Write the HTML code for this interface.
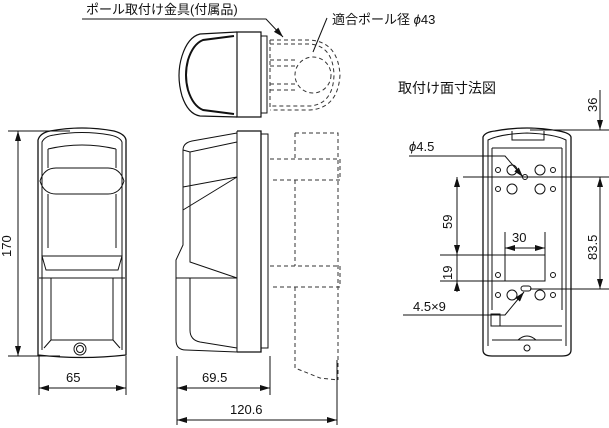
<!DOCTYPE html>
<html><head><meta charset="utf-8"><style>
html,body{margin:0;padding:0;background:#fff;width:609px;height:428px;overflow:hidden}
svg{display:block}
text{font-family:"Liberation Sans","Noto Sans CJK JP",sans-serif;fill:#111}
</style></head><body>
<svg width="609" height="428" viewBox="0 0 609 428" xmlns="http://www.w3.org/2000/svg">
<defs>
<marker id="a" markerWidth="10" markerHeight="6" refX="10" refY="3" orient="auto-start-reverse" markerUnits="userSpaceOnUse"><path d="M0,0 L10,3 L0,6z" fill="#111"/></marker>
</defs>
<g fill="none" stroke="#111" stroke-width="1">
<!-- FRONT VIEW -->
<path d="M38,355 L38,140 Q40,133 50,131 Q82,125 114,131 Q125,134 126,140 L126,355 Q82,360 38,355z" stroke-width="1.3"/>
<path d="M42,350 L42,142 Q45,136 54,135 Q82,130 110,135 Q120,137 122,142 L122,350"/>
<path d="M48,149 Q82,141 116,149 M48,149 L48,168 M116,149 L116,168"/>
<path d="M40,181 Q44,168 56,168 L108,168 Q120,168 124,181 Q120,194 108,194 L56,194 Q44,194 40,181z"/>
<path d="M48,194 L48,248 M116,194 L116,248"/>
<path d="M42,256 L122,256 L118,270 L46,270z"/>
<path d="M39,278 L125,278"/>
<path d="M51,278 L51,340 M113,278 L113,340 M51,340 L113,340 M51,340 L44,348 M113,340 L120,348"/>
<circle cx="80" cy="349" r="6"/><circle cx="80" cy="349" r="3.5"/>
<!-- 170 dim -->
<path d="M8,131 L70,131 M8,356 L60,356"/>
<path d="M18,131 L18,356" marker-start="url(#a)" marker-end="url(#a)"/>
<!-- 65 dim -->
<path d="M39,356 L39,395 M126,356 L126,395"/>
<path d="M39,388 L126,388" marker-start="url(#a)" marker-end="url(#a)"/>
<!-- 69.5 / 120.6 -->
<path d="M177,356 L177,425 M270,356 L270,395 M337,360 L337,425"/>
<path d="M177,388 L270,388" marker-start="url(#a)" marker-end="url(#a)"/>
<path d="M177,420 L337,420" marker-start="url(#a)" marker-end="url(#a)"/>
<!-- SIDE VIEW -->
<path d="M237,131 L261,131 L261,352 L237,352" stroke-width="1.3"/>
<path d="M261,134 L268,134 L268,348 L261,348"/>
<path d="M237,131 L237,352"/>
<path d="M183,150 Q183,143 192,141 L237,133 M183,150 L183,245 L176,260 L176,278 M183,150 L190,152 L237,142"/>
<path d="M190,152 L190,262 L237,278 M183,187 L237,177 L183,210 M176,278 L237,278"/>
<path d="M176,278 L176,340 Q176,350 186,350 L237,352"/>
<path d="M190,278 L190,330 Q190,340 200,342 L237,348"/>
<!-- TOP VIEW -->
<path d="M237,32 L261,32 L261,117 L237,117 z" stroke-width="1.2"/>
<path d="M261,36 L267,36 L267,113 L261,113"/>
<path d="M237,32 L200,34 Q188,37 182,56 Q176,75 182,96 Q188,114 200,116 L237,117" stroke-width="1.2"/>
<path d="M234,36 L203,40 Q193,44 188,60 Q184,75 188,90 Q193,106 203,110 L234,114" stroke-width="2"/>
</g>
<!-- dashed -->
<g fill="none" stroke="#333" stroke-width="1" stroke-dasharray="4,3">
<path d="M270,40 L310,40 Q338,42 340,75 Q338,108 310,110 L270,110"/>
<path d="M270,44 L310,44 Q333,46 334,75 Q333,104 310,106 L270,106"/>
<path d="M270,60 L298,60 M270,66 L298,66 M270,84 L298,84 M270,90 L298,90 M270,40 L270,110"/>
<circle cx="313" cy="75" r="18"/>
<path d="M295,133 L338,133 L338,380 M295,133 L295,159 M270,159 L340,159 L340,180 L270,180 M295,180 L295,266 M270,266 L340,266 L340,287 L270,287 M295,287 L295,368 L320,378 L338,380"/>
</g>
<g fill="none" stroke="#111" stroke-width="1">
<path d="M82,19 L266,19 L283,37" marker-end="url(#a)"/>
<path d="M327,18 L313,52"/>
<!-- MOUNT PLATE -->
<path d="M483,350 L483,137 Q485,132 495,131 Q527,125 559,131 Q570,133 571,137 L571,350 Q571,356 562,356 L492,356 Q483,356 483,350z" stroke-width="1.3"/>
<path d="M488,346 L488,140 Q500,134 527,133 Q554,134 566,140 L566,346"/>
<path d="M492,148 L562,148 M492,148 L492,310 M562,148 L562,310 M512,131 L512,140 L544,140 L544,131"/>
<path d="M492,326 L562,326 M492,340 L562,340 M518,340 Q527,332 536,340"/>
<circle cx="527" cy="348" r="3"/>
<rect x="505" y="255" width="40" height="26"/>
<path d="M530,130 L609,130 M463,177 L609,177 M530,289 L609,289 M505,255 L505,232 M545,255 L545,232 M440,255 L505,255 M440,281 L505,281"/>
<path d="M600,90 L600,130" marker-end="url(#a)"/>
<path d="M600,177 L600,289" marker-start="url(#a)" marker-end="url(#a)"/>
<path d="M457,177 L457,255" marker-start="url(#a)" marker-end="url(#a)"/>
<path d="M457,255 L457,281" />
<path d="M457,281 L457,292" marker-start="url(#a)"/>
<path d="M505,248 L545,248" marker-start="url(#a)" marker-end="url(#a)"/>
<path d="M409,156 L505,156 L523,177" marker-end="url(#a)"/>
<path d="M403,315 L505,315 L524,292" marker-end="url(#a)"/>
<circle cx="498" cy="170" r="2.5"/><circle cx="512" cy="170" r="5"/><circle cx="540" cy="170" r="5"/><circle cx="553" cy="170" r="2.5"/>
<circle cx="498" cy="189" r="2.5"/><circle cx="512" cy="189" r="5"/><circle cx="540" cy="189" r="5"/><circle cx="553" cy="189" r="2.5"/>
<circle cx="525" cy="177" r="2.5"/>
<circle cx="498" cy="275" r="2.5"/><circle cx="553" cy="275" r="2.5"/>
<circle cx="498" cy="295" r="2.5"/><circle cx="512" cy="295" r="5"/><circle cx="540" cy="295" r="5"/><circle cx="553" cy="295" r="2.5"/>
<rect x="521" y="286" width="10" height="5" rx="2.5"/>
<rect x="491" y="314" width="9" height="12"/>
</g>
<g font-size="13">
<text x="86" y="14">ポール取付け金具(付属品)</text>
<text x="332" y="24">適合ポール径 <tspan font-style="italic">ϕ</tspan>43</text>
<text x="398" y="93" font-size="14">取付け面寸法図</text>
<text x="409" y="151"><tspan font-style="italic">ϕ</tspan>4.5</text>
<text x="413" y="311">4.5×9</text>
<text x="512" y="242">30</text>
<text x="66" y="382">65</text>
<text x="202" y="382">69.5</text>
<text x="230" y="414">120.6</text>
<text transform="translate(11,257) rotate(-90)">170</text>
<text transform="translate(452,229) rotate(-90)">59</text>
<text transform="translate(452,280) rotate(-90)">19</text>
<text transform="translate(597,260) rotate(-90)">83.5</text>
<text transform="translate(597,112) rotate(-90)">36</text>
</g>
</svg>
</body></html>
